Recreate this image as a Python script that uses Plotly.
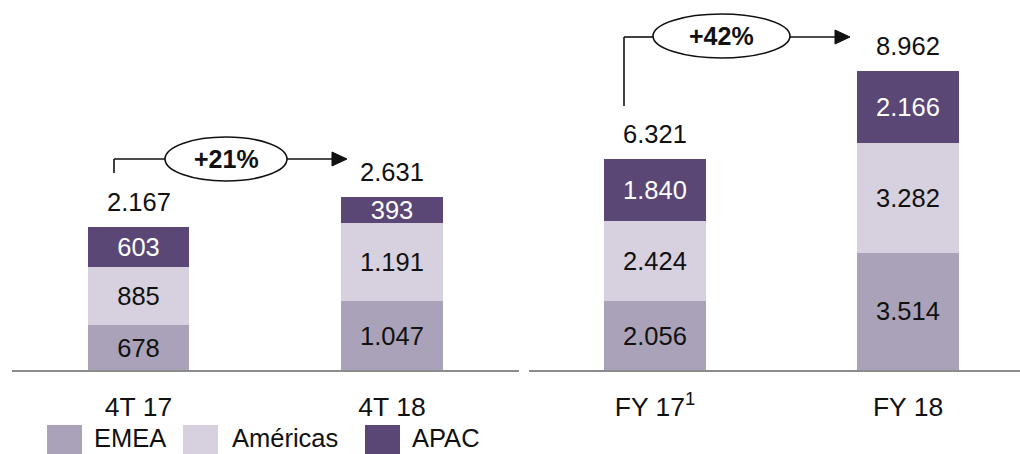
import plotly.graph_objects as go

# Quarterly revenue by region (4T 17 vs 4T 18)
q_categories = ["4T 17", "4T 18"]
q_emea = [678, 1047]
q_americas = [885, 1191]
q_apac = [603, 393]
q_totals = [2167, 2631]
q_growth = "+21%"

# Full-year revenue by region (FY 17 vs FY 18)
fy_categories = ["FY 17", "FY 18"]
fy_ticktext = ["FY 17<sup>1</sup>", "FY 18"]
fy_emea = [2056, 3514]
fy_americas = [2424, 3282]
fy_apac = [1840, 2166]
fy_totals = [6321, 8962]
fy_growth = "+42%"

region_names = ["EMEA", "Américas", "APAC"]
region_colors = ["#aaa2b8", "#d7d1df", "#5a4775"]
label_colors = ["#111111", "#111111", "#ffffff"]

FONT = "Arial, Liberation Sans, sans-serif"
W, H = 1020, 454


def px(x):
    return x / W


def py(y):
    return 1 - y / H


fig = go.Figure()

panels = [
    ("x", "y", q_categories, [q_emea, q_americas, q_apac]),
    ("x2", "y2", fy_categories, [fy_emea, fy_americas, fy_apac]),
]
for xa, ya, cats, series in panels:
    for name, vals, col, tcol in zip(region_names, series, region_colors, label_colors):
        fig.add_trace(go.Bar(
            x=cats, y=vals, name=name, xaxis=xa, yaxis=ya,
            width=0.4, marker=dict(color=col, line=dict(width=0)),
            texttemplate="%{y:,}", textposition="inside",
            insidetextanchor="middle", constraintext="none", textangle=0,
            textfont=dict(family=FONT, size=25.5, color=tcol),
            showlegend=False, hoverinfo="skip",
        ))

# Totals above each stack
annotations = []
for xa, ya, cats, totals in [("x", "y", q_categories, q_totals),
                             ("x2", "y2", fy_categories, fy_totals)]:
    for c, t in zip(cats, totals):
        annotations.append(dict(
            x=c, y=t, xref=xa, yref=ya, text=f"{t:,}".replace(",", "."),
            showarrow=False, yanchor="middle", yshift=25,
            font=dict(family=FONT, size=25.5, color="#111111"),
        ))

shapes = []
LINE = dict(color="#111111", width=1.6)


def growth_marker(x_tick, y_tick_bottom, y_line, ex0, ex1, ey0, ey1, head0, tip, label):
    shapes.append(dict(type="line", xref="paper", yref="paper",
                       x0=px(x_tick), x1=px(x_tick), y0=py(y_tick_bottom), y1=py(y_line), line=LINE))
    shapes.append(dict(type="line", xref="paper", yref="paper",
                       x0=px(x_tick), x1=px(ex0), y0=py(y_line), y1=py(y_line), line=LINE))
    shapes.append(dict(type="circle", xref="paper", yref="paper",
                       x0=px(ex0), x1=px(ex1), y0=py(ey1), y1=py(ey0),
                       line=LINE, fillcolor="white"))
    shapes.append(dict(type="line", xref="paper", yref="paper",
                       x0=px(ex1), x1=px(head0), y0=py(y_line), y1=py(y_line), line=LINE))
    shapes.append(dict(type="path", xref="paper", yref="paper",
                       path=f"M {px(head0)},{py(y_line - 7)} L {px(tip)},{py(y_line)} "
                            f"L {px(head0)},{py(y_line + 7)} Z",
                       line=dict(color="#111111", width=1), fillcolor="#111111"))
    annotations.append(dict(x=px((ex0 + ex1) / 2), y=py((ey0 + ey1) / 2), xref="paper", yref="paper",
                            text=f"<b>{label}</b>", showarrow=False,
                            xanchor="center", yanchor="middle",
                            font=dict(family=FONT, size=25, color="#111111")))


growth_marker(114, 173, 159, 165, 287, 137, 181, 332, 347, q_growth)
growth_marker(624, 106, 37, 653, 790, 14, 58, 835, 850, fy_growth)

# Region key along the bottom
legend_items = [(47, 92), (183, 230), (365, 410)]
for (sx, tx), name, col in zip(legend_items, region_names, region_colors):
    shapes.append(dict(type="rect", xref="paper", yref="paper",
                       x0=px(sx), x1=px(sx + 35), y0=py(460), y1=py(425),
                       line=dict(width=0), fillcolor=col))
    annotations.append(dict(x=px(tx), y=py(454), xref="paper", yref="paper",
                            text=name, showarrow=False, xanchor="left", yanchor="bottom",
                            font=dict(family=FONT, size=25.5, color="#111111")))

axis_common = dict(type="category", showline=True, linecolor="#8c8c8c", linewidth=2,
                   ticks="outside", ticklen=12, tickcolor="rgba(0,0,0,0)",
                   tickfont=dict(family=FONT, size=26.5, color="#111111"),
                   showgrid=False, zeroline=False, fixedrange=True)
yaxis_common = dict(showgrid=False, zeroline=False, showticklabels=False,
                    showline=False, ticks="", fixedrange=True)

fig.update_layout(
    width=W, height=H,
    margin=dict(l=0, r=0, t=0, b=0),
    paper_bgcolor="white", plot_bgcolor="white",
    barmode="stack", separators=",.",
    showlegend=False,
    xaxis=dict(domain=[px(11.75), px(518.75)], range=[-0.5, 1.5], anchor="y", **axis_common),
    yaxis=dict(domain=[py(370), 1], range=[0, 370 / 0.0659], anchor="x", **yaxis_common),
    xaxis2=dict(domain=[px(528.5), 1], range=[-0.5, 1.4427], anchor="y2",
                tickvals=fy_categories, ticktext=fy_ticktext, **axis_common),
    yaxis2=dict(domain=[py(370), 1], range=[0, 370 / 0.03337], anchor="x2", **yaxis_common),
    shapes=shapes,
    annotations=annotations,
)

fig.write_html("out.html")
